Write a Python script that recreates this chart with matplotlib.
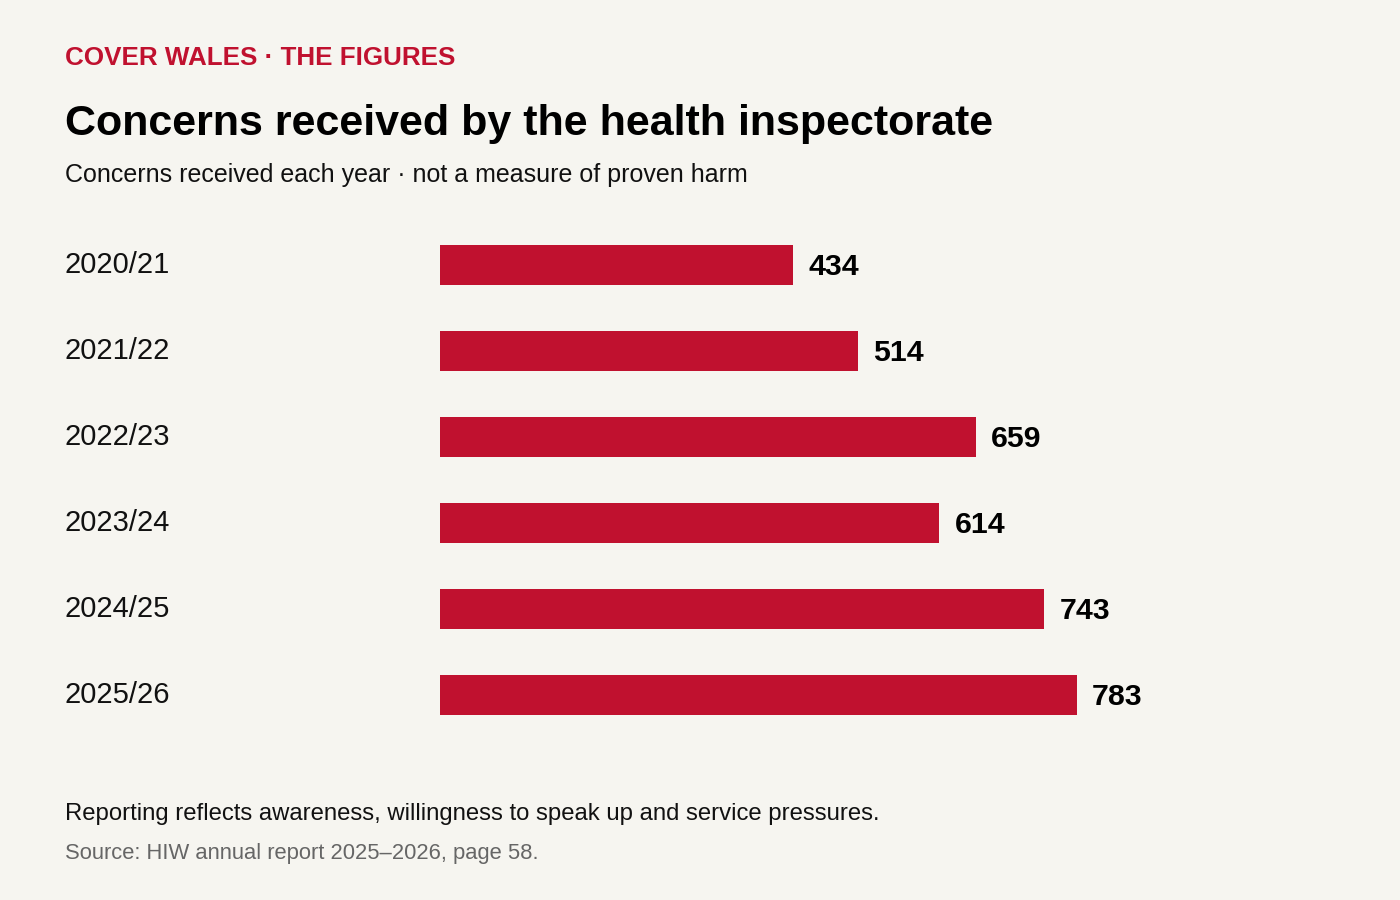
import matplotlib.pyplot as plt
from matplotlib.transforms import blended_transform_factory

plt.rcParams['font.family'] = ['Liberation Sans', 'DejaVu Sans']

# data
years = ['2020/21', '2021/22', '2022/23', '2023/24', '2024/25', '2025/26']
concerns = [434, 514, 659, 614, 743, 783]

BG = '#f6f5f0'
RED = '#c0112f'
W, H = 1400, 900


def fy(px):
    """pixel row from top -> figure fraction"""
    return 1 - px / H


fig = plt.figure(figsize=(W / 100, H / 100), dpi=100, facecolor=BG)

# header block
fig.text(65 / W, fy(65), 'COVER WALES · THE FIGURES', color=RED,
         fontsize=18.7, fontweight='bold', va='baseline')
fig.text(65 / W, fy(135), 'Concerns received by the health inspectorate',
         color='black', fontsize=31, fontweight='bold', va='baseline')
fig.text(65 / W, fy(182), 'Concerns received each year · not a measure of proven harm',
         color='#111111', fontsize=18, va='baseline')

# bars
ax = fig.add_axes([440 / W, fy(738), 860 / W, 516 / H])
ax.set_facecolor(BG)
pos = list(range(len(years)))
ax.barh(pos, concerns, height=40 / 86, color=RED)
ax.set_xlim(0, 860 / 0.8134)
ax.set_ylim(len(years) - 0.5, -0.5)
ax.axis('off')

lab_tf = blended_transform_factory(ax.transAxes, ax.transData)
for i, (yr, v) in enumerate(zip(years, concerns)):
    ax.text((65 - 440) / 860, i, yr, transform=lab_tf,
            fontsize=21, va='center', ha='left', color='#111111')
    ax.annotate(str(v), (v, i), xytext=(15, -2), textcoords='offset pixels',
                fontsize=21.8, fontweight='bold', va='center', ha='left',
                color='black')

# footer
fig.text(65 / W, fy(820),
         'Reporting reflects awareness, willingness to speak up and service pressures.',
         color='#111111', fontsize=17.2, va='baseline')
fig.text(65 / W, fy(859), 'Source: HIW annual report 2025–2026, page 58.',
         color='#666666', fontsize=15.8, va='baseline')

fig.savefig('out.png', dpi=100, facecolor=BG)
